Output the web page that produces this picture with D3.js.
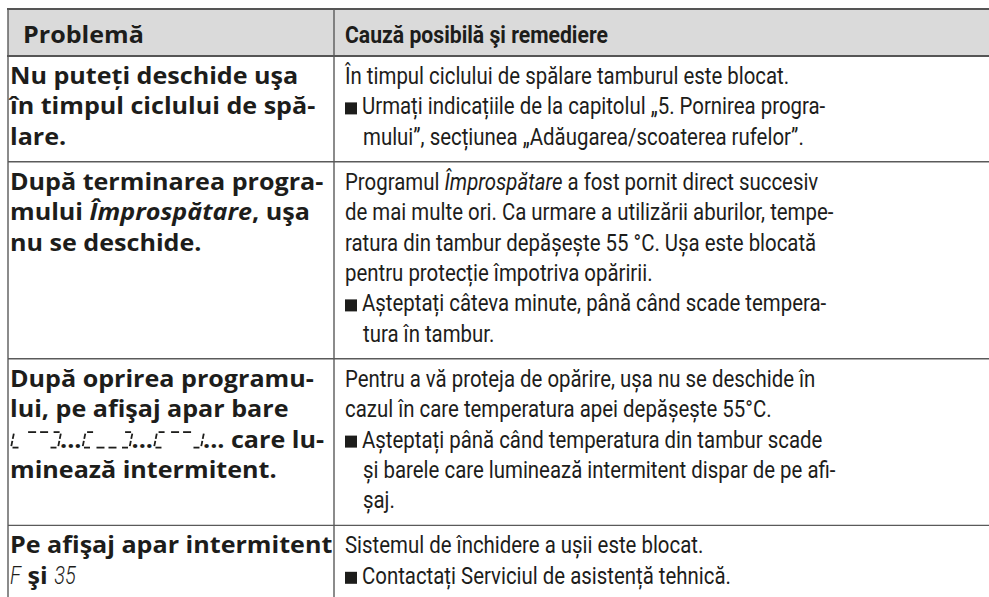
<!DOCTYPE html>
<html><head><meta charset="utf-8">
<script src="https://cdn.jsdelivr.net/npm/d3@7"></script>
<style>html,body{margin:0;padding:0;background:#fff;} svg{display:block;} text{white-space:pre;}</style>
</head><body>
<script>
// ---------- data ----------
const headers = ["Problemă", "Cauză posibilă şi remediere"];
// *...* = italic, {G1} = display bar glyph group, ~x~ = display (segment) text
const problems = [
  ["Nu puteți deschide uşa", "în timpul ciclului de spă-", "lare."],
  ["După terminarea progra-", "mului *Împrospătare*, uşa", "nu se deschide."],
  ["După oprirea programu-", "lui, pe afişaj apar bare", "{G1}...{G2}...{G3}... care lu-", "minează intermitent."],
  ["Pe afişaj apar intermitent", "~F~ şi ~35~"]
];
// "• " = bullet start, "> " = bullet continuation
const causes = [
  ["În timpul ciclului de spălare tamburul este blocat.",
   "• Urmați indicațiile de la capitolul „5. Pornirea progra-",
   "> mului”, secțiunea „Adăugarea/scoaterea rufelor”."],
  ["Programul *Împrospătare* a fost pornit direct succesiv",
   "de mai multe ori. Ca urmare a utilizării aburilor, tempe-",
   "ratura din tambur depășește 55 °C. Ușa este blocată",
   "pentru protecție împotriva opăririi.",
   "• Așteptați câteva minute, până când scade tempera-",
   "> tura în tambur."],
  ["Pentru a vă proteja de opărire, ușa nu se deschide în",
   "cazul în care temperatura apei depășește 55°C.",
   "• Așteptați până când temperatura din tambur scade",
   "> și barele care luminează intermitent dispar de pe afi-",
   "> șaj."],
  ["Sistemul de închidere a ușii este blocat.",
   "• Contactați Serviciul de asistență tehnică."]
];
const glyphGroups = {
  G1: ["L", "top", "]"],
  G2: ["[", "bottom", "]"],
  G3: ["[", "top", "J"]
};

// ---------- layout ----------
const W = 989, H = 597;
const xLeft = 8, xDiv = 334, xRight = W;
const yTop = 9, yHead = 56;
const lineH = 30.4, firstBase = 28, bottomPad = 17;
const ink = "#1d1d1b", rule = "#5a5a5a";

const svg = d3.select("body").append("svg").attr("width", W).attr("height", H);

const styles = {
  prob:  {family: "'Open Sans', 'Noto Sans', sans-serif", weight: 700, size: 22.5},
  cause: {family: "Roboto, 'Liberation Sans', sans-serif", weight: 400, size: 24},
  headR: {family: "Roboto, 'Liberation Sans', sans-serif", weight: 700, size: 23.5},
  disp:  {family: "Roboto, 'DejaVu Sans', sans-serif", weight: 300, size: 25}
};
function applyStyle(sel, st) {
  sel.attr("font-family", st.family).attr("font-weight", st.weight).attr("font-size", st.size)
     .attr("fill", ink).attr("xml:space", "preserve").style("white-space", "pre");
}
function measure(str, st, italic) {
  const t = svg.append("text").call(applyStyle, st).attr("font-style", italic ? "italic" : null).text(str);
  const w = t.node().getComputedTextLength(); t.remove(); return w;
}
function richWidth(str, st) {
  return str.split(/(\*[^*]+\*)/).filter(d => d).reduce((a, p) =>
    a + (/^\*.*\*$/.test(p) ? measure(p.slice(1, -1), st, true) : measure(p, st, false)), 0);
}
// calibrate horizontal compression on several reference lines (target pixel widths)
function calib(pairs, st) {
  const tgt = d3.sum(pairs, d => d[1]);
  const got = d3.sum(pairs, d => richWidth(d[0], st));
  return tgt / got;
}
const sProb = calib([[problems[0][0], 291], [problems[1][0], 315], [problems[3][0], 313], [problems[1][2], 197]], styles.prob);
const sCause = calib([[causes[0][0], 432], [causes[0][1].slice(2), 468], [causes[1][0], 474],
                      [causes[2][0], 484], [causes[3][0], 352]], styles.cause);
const sHeadR = 263 / measure(headers[1], styles.headR);
const sDisp = 0.8;

// row geometry from line counts
const rowCount = problems.map((p, i) => Math.max(p.length, causes[i].length));
const rowTops = [];
let yc = yHead;
rowCount.forEach(n => { rowTops.push(yc); yc += firstBase + (n - 1) * lineH + bottomPad; });

// header background
svg.append("rect").attr("x", xLeft).attr("y", yTop).attr("width", xRight - xLeft).attr("height", yHead - yTop).attr("fill", "#dadada");

// header text
svg.append("text").call(applyStyle, styles.prob)
  .attr("transform", `translate(23,43) scale(${sProb},1)`).text(headers[0]);
svg.append("text").call(applyStyle, styles.headR)
  .attr("transform", `translate(345,43) scale(${sHeadR},1)`).text(headers[1]);

// glyph drawing (segment-style bars)
function drawGroup(g, x0, base, spec) {
  const h = 15.5, slant = 0.2, lw = 1.8;
  const P = (x, y) => [x0 + x + (-y) * slant, base + y];
  const segs = [];
  function bracket(x, type) {
    const w = 8;
    const top = [[x + 1.5, -h], [x + w - 0.5, -h]], bot = [[x + 1.5, 0], [x + w - 0.5, 0]];
    const lu = [[x, -h + 1.5], [x, -h / 2 - 1]], ll = [[x, -h / 2 + 1], [x, -1.5]];
    const ru = [[x + w + 1, -h + 1.5], [x + w + 1, -h / 2 - 1]], rl = [[x + w + 1, -h / 2 + 1], [x + w + 1, -1.5]];
    if (type === "[") segs.push(top, lu, ll, bot);
    if (type === "L") segs.push(lu, ll, bot);
    if (type === "]") segs.push(top, ru, rl, bot);
    if (type === "J") segs.push(ru, rl, bot);
  }
  bracket(1, spec[0]);
  const yy = spec[1] === "top" ? -h : 0;
  segs.push([[15, yy], [23, yy]], [[27, yy], [35, yy]]);
  bracket(39, spec[2]);
  const line = d3.line();
  segs.forEach(s => g.append("path").attr("d", line(s.map(p => P(p[0], p[1]))))
    .attr("stroke", ink).attr("stroke-width", lw).attr("fill", "none").attr("stroke-linecap", "butt"));
  return 50;
}

// write a rich line at (x, base) with horizontal scale s
function writeLine(x, base, str, st, s) {
  const parts = str.split(/(\*[^*]+\*|\{G\d\}|~[^~]+~)/).filter(d => d !== "");
  let cx = x;
  parts.forEach(p => {
    if (/^\{G\d\}$/.test(p)) {
      cx += drawGroup(svg.append("g"), cx, base, glyphGroups[p.slice(1, -1)]);
    } else if (/^~.*~$/.test(p)) {
      const txt = p.slice(1, -1);
      svg.append("text").call(applyStyle, styles.disp).attr("font-style", "italic")
        .attr("transform", `translate(${cx},${base}) scale(${sDisp},1)`).text(txt);
      cx += measure(txt, styles.disp, true) * sDisp;
    } else {
      const italic = /^\*.*\*$/.test(p);
      const txt = italic ? p.slice(1, -1) : p;
      svg.append("text").call(applyStyle, st).attr("font-style", italic ? "italic" : null)
        .attr("transform", `translate(${cx},${base}) scale(${s},1)`).text(txt);
      cx += measure(txt, st, italic) * s;
    }
  });
}

// body rows
problems.forEach((lines, i) => {
  const top = rowTops[i];
  lines.forEach((ln, j) => writeLine(10, top + firstBase + j * lineH, ln, styles.prob, sProb));
  causes[i].forEach((ln, j) => {
    const base = top + firstBase + j * lineH;
    let x = 345, txt = ln;
    if (ln.startsWith("• ")) {
      svg.append("rect").attr("x", 345).attr("y", base - 12).attr("width", 12).attr("height", 12).attr("fill", ink);
      x = 362; txt = ln.slice(2);
    } else if (ln.startsWith("> ")) { x = 363; txt = ln.slice(2); }
    writeLine(x, base, txt, styles.cause, sCause);
  });
});

// rules
const rows = rowTops.slice(1);
svg.append("line").attr("x1", xLeft - 1).attr("x2", xRight).attr("y1", yTop).attr("y2", yTop).attr("stroke", "#555").attr("stroke-width", 2);
svg.append("line").attr("x1", xLeft - 1).attr("x2", xRight).attr("y1", yHead).attr("y2", yHead).attr("stroke", "#555").attr("stroke-width", 2);
svg.selectAll(".rowline").data(rows).join("line").attr("x1", xLeft).attr("x2", xRight)
  .attr("y1", d => d).attr("y2", d => d).attr("stroke", rule).attr("stroke-width", 1.4);
[xLeft, xDiv].forEach(x => svg.append("line").attr("x1", x).attr("x2", x).attr("y1", yTop).attr("y2", H)
  .attr("stroke", rule).attr("stroke-width", 1.4));
</script>
</body></html>
